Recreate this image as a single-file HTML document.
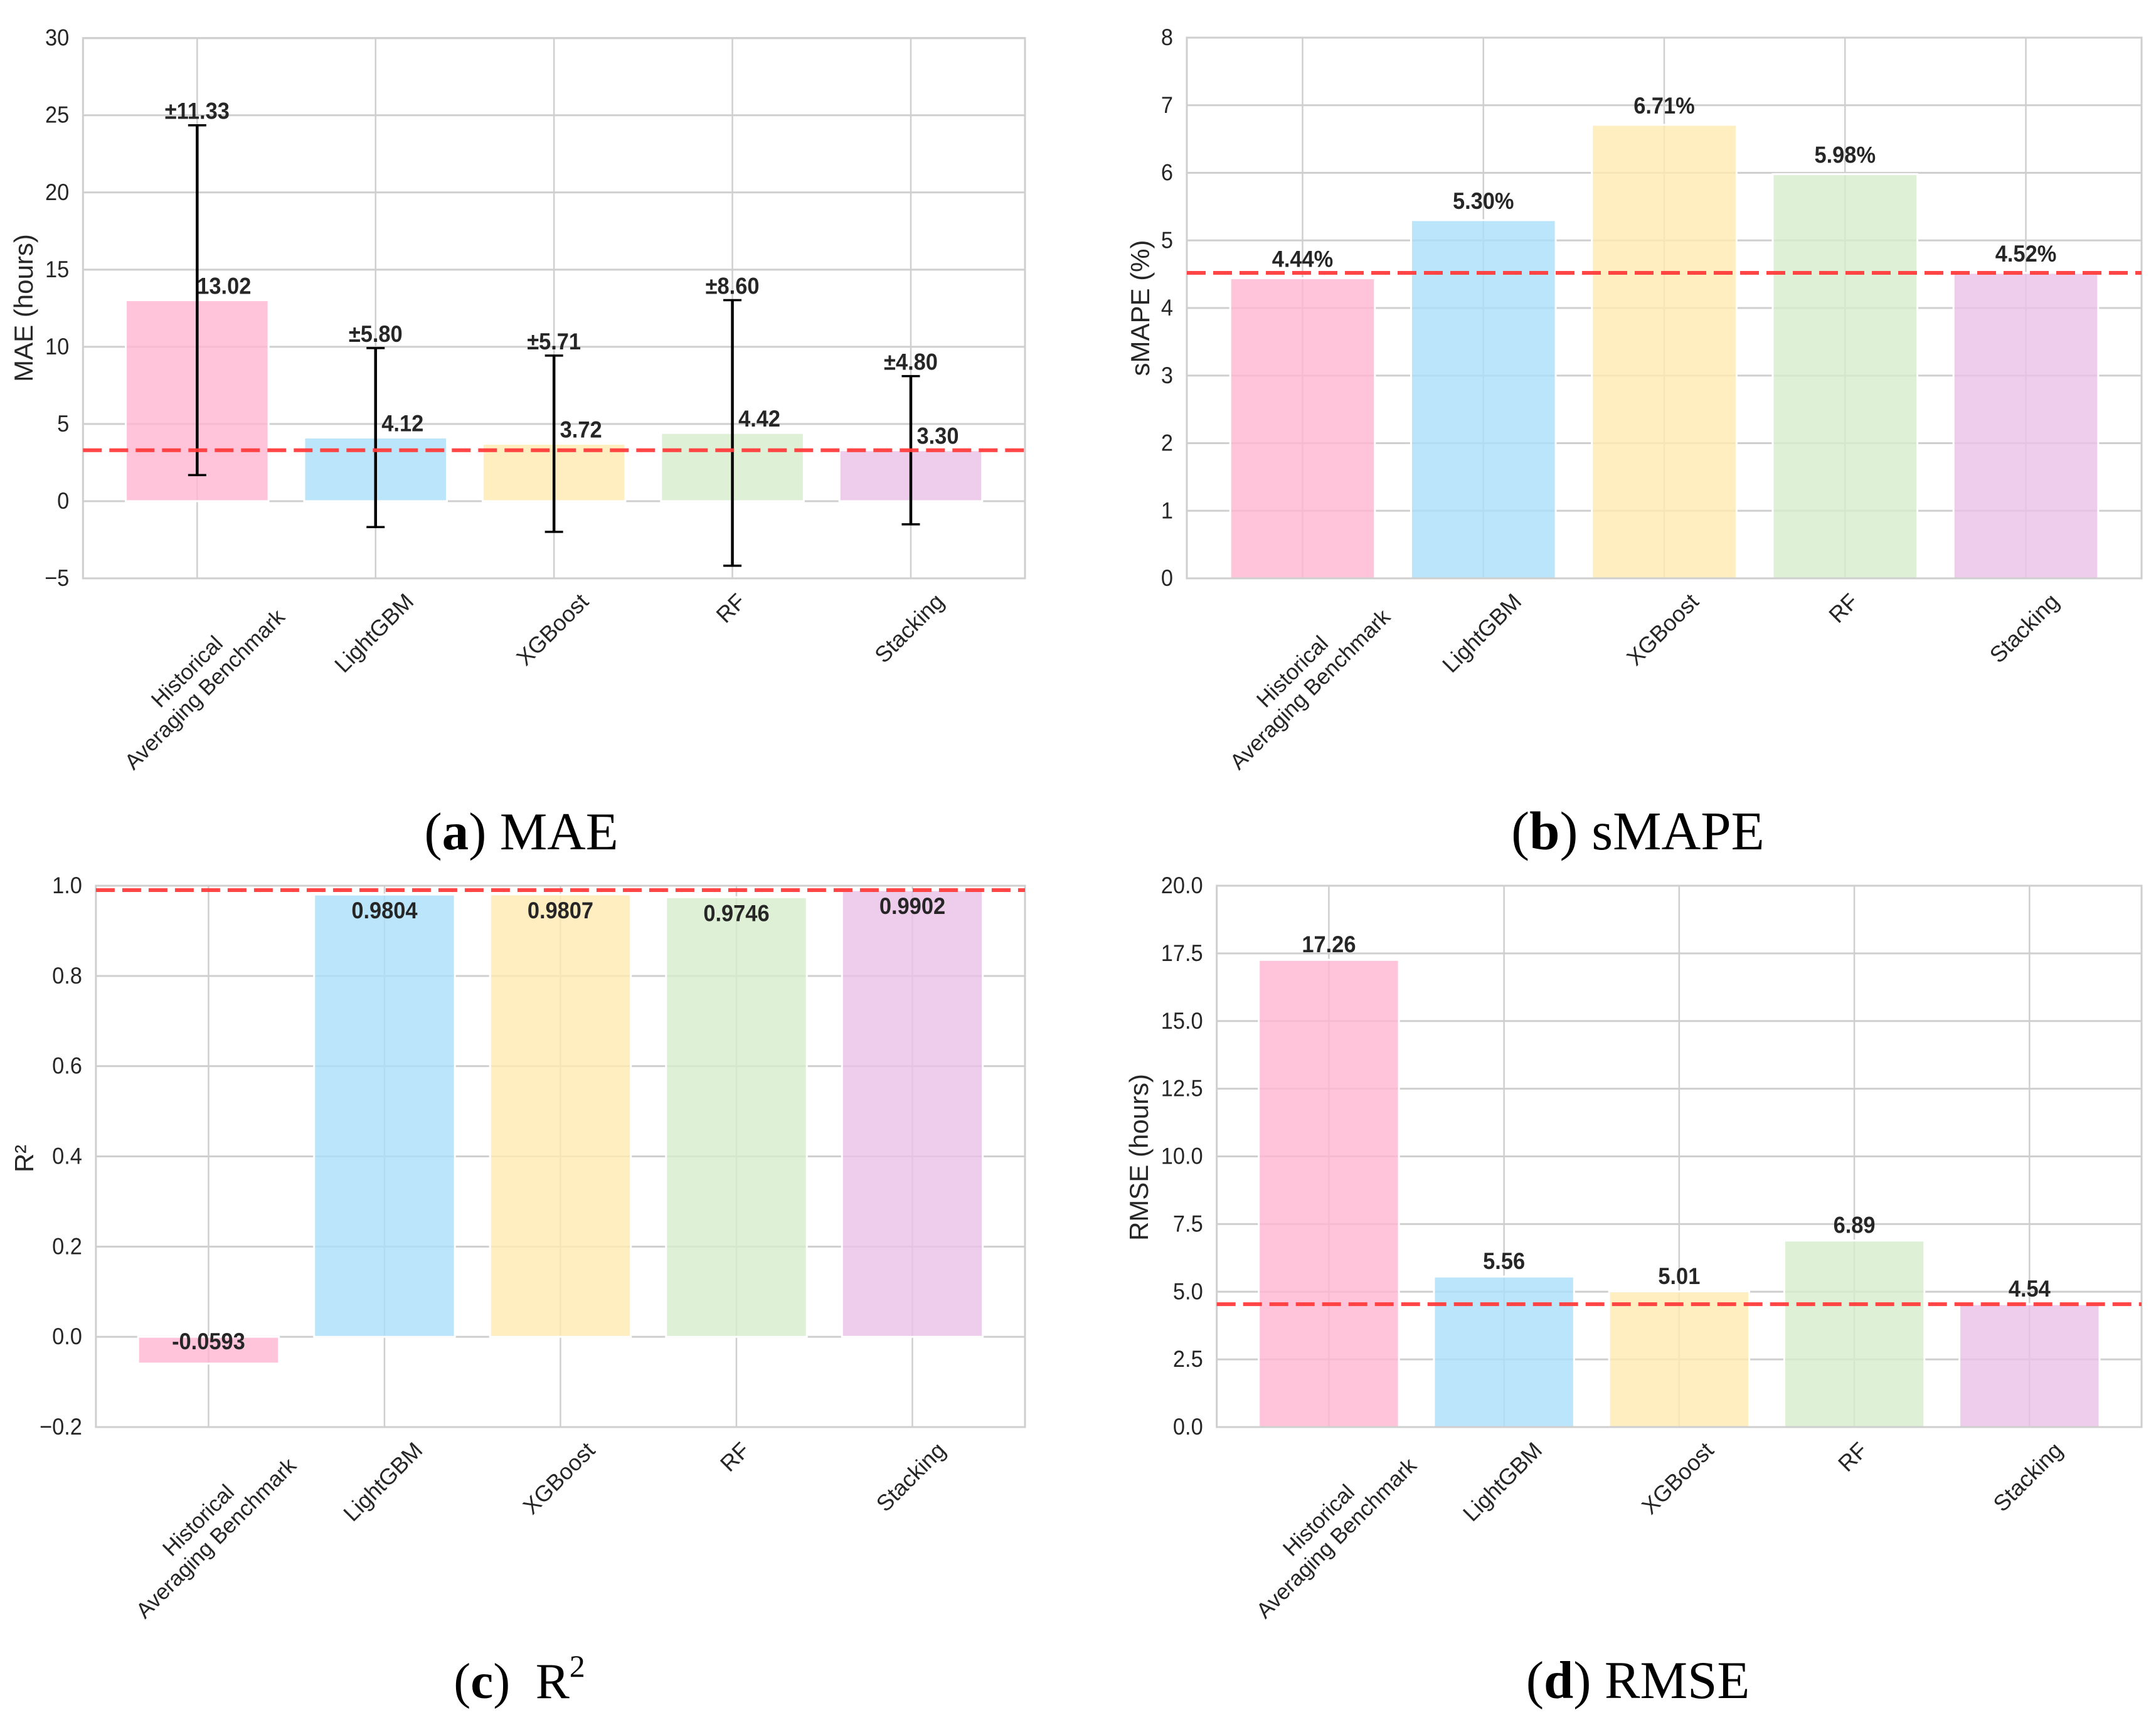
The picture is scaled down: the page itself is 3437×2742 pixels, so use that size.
<!DOCTYPE html>
<html lang="en">
<head>
<meta charset="utf-8">
<title>Model comparison: MAE, sMAPE, R2, RMSE</title>
<style>
html,body{margin:0;padding:0;background:#fff;width:3437px;height:2742px;overflow:hidden}
svg{display:block}
text{font-family:"Liberation Sans",sans-serif;fill:#262626}
.cap{font-family:"Liberation Serif",serif;font-size:85px;fill:#000;text-anchor:middle}
</style>
</head>
<body>
<svg id="figure" xmlns="http://www.w3.org/2000/svg" width="3437" height="2742" viewBox="0 0 3437 2742">
<rect width="3437" height="2742" fill="#ffffff"/>
<text class="cap" x="831" y="1354">(<tspan font-weight="bold">a</tspan>) MAE</text>
<text class="cap" x="2611" y="1354" style="font-size:87px">(<tspan font-weight="bold">b</tspan>) sMAPE</text>
<text class="cap" x="828" y="2707" xml:space="preserve" style="font-size:81px">(<tspan font-weight="bold">c</tspan>)  R<tspan font-size="50" dy="-34">2</tspan></text>
<text class="cap" x="2611" y="2707">(<tspan font-weight="bold">d</tspan>) RMSE</text>
</svg>
<script>
const categories = ["Historical|Averaging Benchmark", "LightGBM", "XGBoost", "RF", "Stacking"];
const barColors = ["#FFB5D1", "#AADEFA", "#FEEAB0", "#D6ECCA", "#EABFE6"];

const maeValues = [13.02, 4.12, 3.72, 4.42, 3.30];
const maeErrors = [11.33, 5.80, 5.71, 8.60, 4.80];
const maeTicks = [-5, 0, 5, 10, 15, 20, 25, 30];
const maeTickLabels = ["−5", "0", "5", "10", "15", "20", "25", "30"];

const smapeValues = [4.44, 5.30, 6.71, 5.98, 4.52];
const smapeTicks = [0, 1, 2, 3, 4, 5, 6, 7, 8];
const smapeTickLabels = ["0", "1", "2", "3", "4", "5", "6", "7", "8"];

const r2Values = [-0.0593, 0.9804, 0.9807, 0.9746, 0.9902];
const r2Ticks = [-0.2, 0, 0.2, 0.4, 0.6, 0.8, 1.0];
const r2TickLabels = ["−0.2", "0.0", "0.2", "0.4", "0.6", "0.8", "1.0"];

const rmseValues = [17.26, 5.56, 5.01, 6.89, 4.54];
const rmseTicks = [0, 2.5, 5, 7.5, 10, 12.5, 15, 17.5, 20];
const rmseTickLabels = ["0.0", "2.5", "5.0", "7.5", "10.0", "12.5", "15.0", "17.5", "20.0"];

const NS = "http://www.w3.org/2000/svg";
const figure = document.getElementById("figure");
const GRID = "#cfcfcf";

function svgEl(parent, tag, props) {
  const el = document.createElementNS(NS, tag);
  for (const k in props) el.setAttribute(k, props[k]);
  parent.appendChild(el);
  return el;
}

function drawText(parent, x, y, str, size, anchor, weight) {
  const el = svgEl(parent, "text", {
    transform: "translate(" + x + " " + y + ") scale(0.93 1)",
    "font-size": size,
    "text-anchor": anchor,
    "font-weight": weight
  });
  el.textContent = str;
  return el;
}

function drawPanel(cfg) {
  const panel = svgEl(figure, "g", {});
  
  

  const n = cfg.values.length;
  const spacing = (cfg.right - cfg.left) / (n - 1 + 1.28);
  const xScale = i => cfg.left + (i + 0.64) * spacing;
  const yScale = v => cfg.bottom - (v - cfg.yMin) / (cfg.yMax - cfg.yMin) * (cfg.bottom - cfg.top);

  cfg.ticks.forEach((t, i) => {
    const y = yScale(t);
    const line = svgEl(panel, "line", { x1: cfg.left, x2: cfg.right, y1: y, y2: y, stroke: GRID, "stroke-width": 3 });
    
    
    const lab = drawText(panel, cfg.left - 22, y + 12, cfg.tickLabels[i], 37, "end", "normal");
    
    
  });

  cfg.values.forEach((v, i) => {
    const x = xScale(i);
    const line = svgEl(panel, "line", { x1: x, x2: x, y1: cfg.top, y2: cfg.bottom, stroke: GRID, "stroke-width": 2.5 });
    
    
  });

  cfg.values.forEach((v, i) => {
    const x = xScale(i);
    const w = spacing * 0.8;
    const y0 = yScale(0);
    const y1 = yScale(v);
    const bar = svgEl(panel, "rect", {
      x: x - w / 2,
      y: Math.min(y0, y1),
      width: w,
      height: Math.abs(y1 - y0),
      fill: barColors[i],
      "fill-opacity": 0.8,
      stroke: "#ffffff",
      "stroke-width": 3
    });
    
    
  });

  const frame = svgEl(panel, "rect", { x: cfg.left, y: cfg.top, width: cfg.right - cfg.left, height: cfg.bottom - cfg.top, fill: "none", stroke: GRID, "stroke-width": 3 });
  
  

  if (cfg.errors) {
    cfg.errors.forEach((e, i) => {
      const x = xScale(i);
      const hi = yScale(cfg.values[i] + e);
      const lo = yScale(cfg.values[i] - e);
      const stem = svgEl(panel, "line", { x1: x, x2: x, y1: hi, y2: lo, stroke: "#000", "stroke-width": 4.5 });
      
      
      [hi, lo].forEach(cy => {
        const capLine = svgEl(panel, "line", { x1: x - 14.5, x2: x + 14.5, y1: cy, y2: cy, stroke: "#000", "stroke-width": 3.5 });
        
        
      });
      const errLab = drawText(panel, x, hi - 10, "±" + e.toFixed(2), 37, "middle", "bold");
      
      
    });
  }

  const bestY = yScale(cfg.values[n - 1]);
  const best = svgEl(panel, "line", { x1: cfg.left, x2: cfg.right, y1: bestY, y2: bestY, stroke: "#ff3b3b", "stroke-width": 6, "stroke-dasharray": "30 12", "stroke-opacity": 0.95 });
  
  

  cfg.values.forEach((v, i) => {
    const x = xScale(i) + cfg.labelDx;
    const y = cfg.labelY(yScale(v), v);
    const lab = drawText(panel, x, y, v.toFixed(cfg.decimals) + cfg.suffix, 37, "middle", "bold");
    
    
  });

  categories.forEach((c, i) => {
    const parts = c.split("|");
    const tx = svgEl(panel, "text", { "font-size": parts.length > 1 ? 35 : 36, "text-anchor": "middle" });
    
    
    parts.forEach((p, j) => {
      const ts = svgEl(tx, "tspan", { x: 0, dy: j === 0 ? -(parts.length - 1) * 20 + 13 : 40 });
      ts.textContent = p;
    });
    const len = tx.getBBox().width;
    const thick = parts.length * 40;
    const half = (len + thick) * Math.SQRT1_2 / 2;
    const dx = parts.length > 1 ? -3 : -3;
    const cy = cfg.bottom + (parts.length > 1 ? 12 : 16) + half;
    tx.setAttribute("transform", "translate(" + (xScale(i) + dx) + " " + cy + ") rotate(-45)");
  });

  const title = svgEl(panel, "text", { "font-size": 42, "text-anchor": "middle", transform: "translate(" + cfg.titleX + " " + cfg.titleY + ") rotate(-90)" });
  
  
  title.textContent = cfg.title;
}

drawPanel({
  key: "mae", title: "MAE (hours)", values: maeValues, errors: maeErrors,
  ticks: maeTicks, tickLabels: maeTickLabels, yMin: -5, yMax: 30,
  left: 132.3, right: 1634, top: 60.7, bottom: 922,
  titleX: 52, titleY: 491, decimals: 2, suffix: "", labelDx: 43,
  labelY: y => y - 10
});
drawPanel({
  key: "smape", title: "sMAPE (%)", values: smapeValues,
  ticks: smapeTicks, tickLabels: smapeTickLabels, yMin: 0, yMax: 8,
  left: 1892, right: 3414, top: 60, bottom: 922,
  titleX: 1832, titleY: 491, decimals: 2, suffix: "%", labelDx: 0,
  labelY: y => y - 18
});
drawPanel({
  key: "r2", title: "R²", values: r2Values,
  ticks: r2Ticks, tickLabels: r2TickLabels, yMin: -0.2, yMax: 1.0,
  left: 152.9, right: 1634, top: 1412, bottom: 2275,
  titleX: 53, titleY: 1847, decimals: 4, suffix: "", labelDx: 0,
  labelY: (y, v) => v >= 0 ? y + 38 : y - 23
});
drawPanel({
  key: "rmse", title: "RMSE (hours)", values: rmseValues,
  ticks: rmseTicks, tickLabels: rmseTickLabels, yMin: 0, yMax: 20,
  left: 1939.7, right: 3414, top: 1412, bottom: 2275,
  titleX: 1830, titleY: 1845, decimals: 2, suffix: "", labelDx: 0,
  labelY: y => y - 12
});
</script>
</body>
</html>
